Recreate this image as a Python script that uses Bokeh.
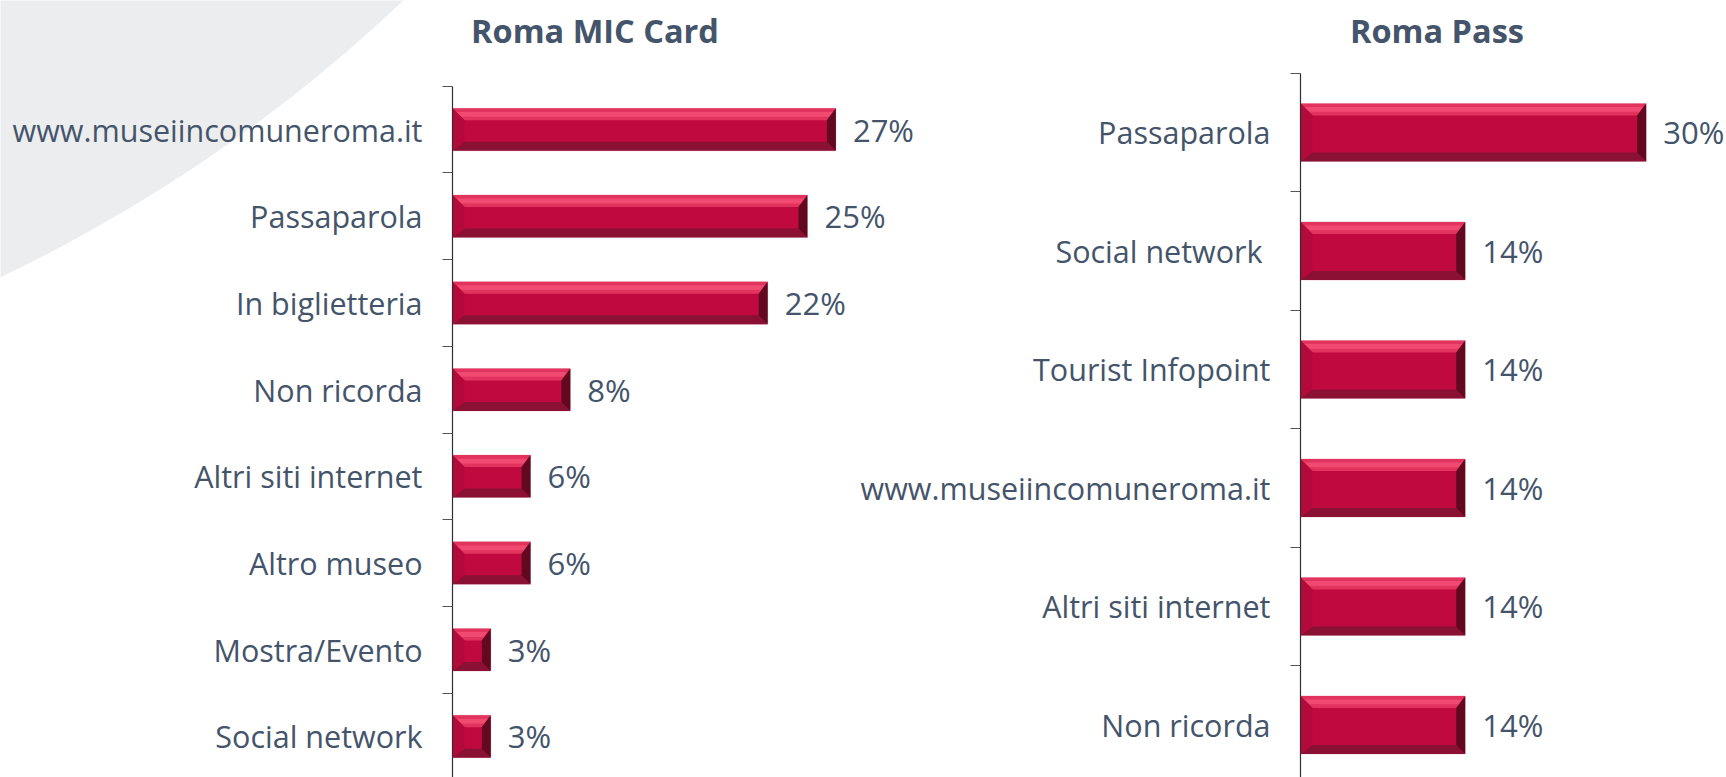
from bokeh.plotting import figure
from bokeh.models import Range1d, LinearAxis, FixedTicker, ColumnDataSource
from bokeh.core.properties import value
from bokeh.embed import file_html
from bokeh.resources import INLINE

# ---------------- data ----------------
mic_title = "Roma MIC Card"
mic_categories = ["www.museiincomuneroma.it", "Passaparola", "In biglietteria",
                  "Non ricorda", "Altri siti internet", "Altro museo",
                  "Mostra/Evento", "Social network"]
mic_values = [27.0, 25.0, 22.2, 8.3, 5.5, 5.5, 2.7, 2.7]

pass_title = "Roma Pass"
pass_categories = ["Passaparola", "Social network ", "Tourist Infopoint",
                   "www.museiincomuneroma.it", "Altri siti internet", "Non ricorda"]
pass_values = [29.8, 14.2, 14.2, 14.2, 14.2, 14.2]

# ---------------- style ----------------
FONT = "Open Sans"
TXT = "#44546A"
FACE = "#C0093E"
TOP = "#E2325E"
TOP_HI = "#F04A72"
BOTTOM = "#8A1034"
LEFT = "#B30A3B"
RIGHT = "#62091F"
W, H = 1726, 777

# panel geometry (pixels): axis x, px per percent, first tick y, category band
L = dict(axis=452, ppu=14.2, tick0=85.7, band=86.7)
R = dict(axis=1300, ppu=11.6, tick0=72.7, band=118.5)


def xr(g):
    return Range1d(-g["axis"] / g["ppu"], (W - g["axis"]) / g["ppu"])


def yr(g):
    return Range1d((H - g["tick0"]) / g["band"], -g["tick0"] / g["band"])


p = figure(width=W, height=H, x_range=xr(L), y_range=yr(L),
           output_backend="svg", toolbar_location=None,
           x_axis_location=None, y_axis_location=None, min_border=0,
           outline_line_color=None, background_fill_color="white",
           border_fill_color="white")
p.extra_x_ranges = {"r": xr(R)}
p.extra_y_ranges = {"r": yr(R)}
p.xgrid.visible = False
p.ygrid.visible = False


def X(g, px):
    return (px - g["axis"]) / g["ppu"]


def Y(g, py):
    return (py - g["tick0"]) / g["band"]


# background decoration (large light-grey disc in the top-left corner)
p.ellipse(x=[X(L, -668)], y=[Y(L, -1127)], width=2 * 1555, height=2 * 1555,
          width_units="screen", height_units="screen",
          fill_color="#ECEDEF", line_color=None)


def panel(g, rn, title, cats, vals, title_cx, title_cy, bevels=(12, 12, 9, 9)):
    n = len(cats)
    ppu, band = g["ppu"], g["band"]
    kw = {} if rn is None else dict(x_range_name=rn, y_range_name=rn)
    centers = [i + 0.5 for i in range(n)]
    hh = 0.245
    wl, wt, wr, wb = bevels
    wlx, wrx = wl / ppu, wr / ppu
    wty, wby = wt / band, wb / band

    src = ColumnDataSource(dict(y=centers, right=vals, cat=cats,
                                lab=[f"{int(v + 0.5)}%" for v in vals]))
    p.hbar(y="y", left=0, right="right", height=2 * hh, source=src,
           fill_color=FACE, line_color="#F2D3DB", line_width=1, **kw)

    txs, tys, bxs, bys, lxs, lys, rxs, rys, hxs, hys = ([] for _ in range(10))
    for c, v in zip(centers, vals):
        yt, yb = c - hh, c + hh
        txs.append([0, v, v - wrx, wlx]); tys.append([yt, yt, yt + wty, yt + wty])
        hxs.append([wlx * 0.35, v - wrx * 0.35, v - wrx * 0.75, wlx * 0.75])
        hys.append([yt + wty * 0.3, yt + wty * 0.3, yt + wty * 0.7, yt + wty * 0.7])
        bxs.append([0, v, v - wrx, wlx]); bys.append([yb, yb, yb - wby, yb - wby])
        lxs.append([0, wlx, wlx, 0]); lys.append([yt, yt + wty, yb - wby, yb])
        rxs.append([v, v - wrx, v - wrx, v]); rys.append([yt, yt + wty, yb - wby, yb])
    p.patches(txs, tys, fill_color=TOP, line_color=None, **kw)
    p.patches(hxs, hys, fill_color=TOP_HI, line_color=None, **kw)
    p.patches(bxs, bys, fill_color=BOTTOM, line_color=None, **kw)
    p.patches(lxs, lys, fill_color=LEFT, line_color=None, **kw)
    p.patches(rxs, rys, fill_color=RIGHT, line_color=None, **kw)

    p.text(x="right", y="y", text="lab", source=src, x_offset=17,
           text_align="left", text_baseline="middle",
           text_font=value(FONT), text_font_size="31px", text_color=TXT, **kw)

    ax = LinearAxis(ticker=FixedTicker(ticks=centers, minor_ticks=list(range(n + 1))),
                    fixed_location=0, bounds=(0, n),
                    major_label_overrides={c: t for c, t in zip(centers, cats)},
                    major_tick_out=0, major_tick_in=0,
                    minor_tick_out=10, minor_tick_in=0,
                    axis_line_color="#2F2F2F", axis_line_width=1.2,
                    minor_tick_line_color="#555555", minor_tick_line_width=1.2,
                    major_label_standoff=20,
                    major_label_text_font=FONT, major_label_text_font_size="30.5px",
                    major_label_text_color=TXT, **kw)
    p.add_layout(ax, "left")

    p.text(x=[X(g, title_cx)], y=[Y(g, title_cy)], text=[title], text_align="center",
           text_baseline="middle", text_font=value(FONT), text_font_style="bold",
           text_font_size="32.5px", text_color=TXT, **kw)


panel(L, None, mic_title, mic_categories, mic_values, title_cx=594.5, title_cy=29.5)
panel(R, "r", pass_title, pass_categories, pass_values, title_cx=1436.5, title_cy=29.5)

open("out.html", "w").write(file_html(p, INLINE))
